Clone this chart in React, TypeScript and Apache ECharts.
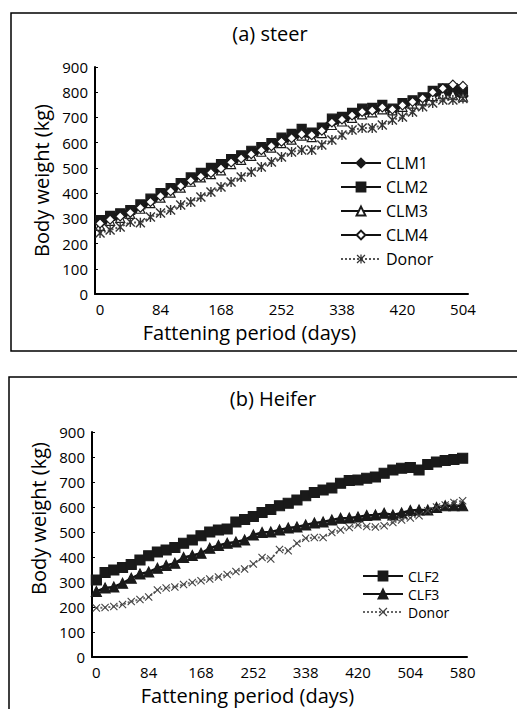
import React, { useEffect, useRef } from "react";
import * as echarts from "echarts";

// ---- data ----
const steerDays = [0,14,28,42,56,70,84,98,112,126,140,154,168,182,196,210,224,238,252,266,280,294,308,322,338,350,364,378,392,406,420,434,448,462,476,490,504];
const heiferDays = [0,14,28,42,56,70,84,98,112,126,140,154,168,182,196,210,224,238,252,266,280,294,308,322,338,350,364,378,392,406,420,434,448,462,476,490,504,518,532,546,560,570,580];

const CLM1 = [285,300,312,325,345,370,392,412,432,455,472,492,508,528,544,560,575,590,610,625,640,630,648,680,690,705,720,725,738,730,745,758,770,790,795,792,785];
const CLM2 = [293,310,320,333,355,378,400,420,440,462,480,500,515,535,550,568,582,598,620,635,655,640,660,695,702,718,735,738,750,735,757,768,780,805,815,815,800];
const CLM3 = [270,290,302,318,338,360,382,402,422,445,462,475,490,515,532,548,564,580,598,612,628,622,638,670,684,698,712,720,732,728,742,755,768,785,792,790,782];
const CLM4 = [280,295,308,322,342,365,388,408,428,450,466,480,498,522,538,554,570,586,604,618,634,630,648,680,692,708,722,728,740,732,748,762,776,800,815,830,825];
const steerDonor = [242,254,266,285,282,305,321,333,353,365,385,404,424,444,464,484,504,523,543,563,571,571,591,611,630,650,658,658,670,690,702,722,742,757,769,769,775];

const CLF2 = [308,338,348,358,370,388,405,420,428,438,455,468,485,500,508,512,540,550,562,578,590,605,615,628,645,658,668,676,695,706,708,715,720,735,748,755,758,748,770,780,786,790,795];
const CLF3 = [262,276,280,295,315,332,340,355,366,375,398,406,415,435,446,455,460,468,488,498,500,508,516,520,528,536,540,548,555,556,560,566,568,575,568,576,586,588,588,598,605,605,605];
const heiferDonor = [196,198,202,210,222,230,240,268,276,280,290,298,305,312,320,330,342,352,372,398,392,430,425,455,475,478,478,498,508,518,528,522,520,525,538,548,556,565,585,600,608,618,625];

const yTicks = { min: 0, max: 900, interval: 100 };

const FONT = "Open Sans";
const STAR = "path://M1,0L5,4L9,0L10,1L6,5L10,9L9,10L5,6L1,10L0,9L4,5L0,1ZM4.3,0L5.7,0L5.7,10L4.3,10Z";
const XMARK = "path://M1,0L5,4L9,0L10,1L6,5L10,9L9,10L5,6L1,10L0,9L4,5L0,1Z";

export default function App() {
  const ref = useRef<HTMLDivElement>(null);
  useEffect(() => {
    document.body.style.margin = "0";
    if (!ref.current) return;
    const chart = echarts.init(ref.current, undefined, { renderer: "svg" });

    const solid = (name: string, data: number[], symbol: string, size: number, xi: number, color = "#1a1a1a") => ({
      name, type: "line", data, xAxisIndex: xi, yAxisIndex: xi,
      symbol, symbolSize: size, showAllSymbol: true,
      lineStyle: { color: "#111", width: 2.5 },
      itemStyle: { color, borderColor: "#1a1a1a", borderWidth: 1.2 },
    });

    const axisX = (gridIndex: number, data: number[]) => ({
      type: "category", gridIndex, data: data.map(String), boundaryGap: true,
      name: "Fattening period (days)", nameLocation: "middle", nameGap: 28,
      nameTextStyle: { fontFamily: FONT, fontSize: 20, lineHeight: 20, color: "#000", padding: [0, 64, 0, 0] },
      axisLine: { lineStyle: { color: "#000", width: 2 } },
      axisTick: { inside: true, length: 4, interval: 5, lineStyle: { color: "#000" } },
      axisLabel: { interval: 5, fontFamily: FONT, fontSize: 15, lineHeight: 15, color: "#000", margin: 7 },
      splitLine: { show: false },
    });
    const axisY = (gridIndex: number, shift: number) => ({
      type: "value", gridIndex, ...yTicks,
      name: "Body weight (kg)", nameLocation: "middle", nameGap: 43,
      nameTextStyle: { fontFamily: FONT, fontSize: 20, color: "#000", padding: shift > 0 ? [0, 0, 0, shift] : [0, -shift, 0, 0] },
      axisLine: { show: true, lineStyle: { color: "#000", width: 2 } },
      axisTick: { show: true, inside: true, length: 3, lineStyle: { color: "#000" } },
      axisLabel: { fontFamily: FONT, fontSize: 15, color: "#000", margin: 7 },
      splitLine: { show: false },
    });

    chart.setOption({
      animation: false,
      backgroundColor: "#fff",
      graphic: [
        { type: "rect", shape: { x: 11, y: 13, width: 520, height: 338 }, style: { fill: "none", stroke: "#000", lineWidth: 1.5 } },
        { type: "rect", shape: { x: 9, y: 377, width: 520, height: 345 }, style: { fill: "none", stroke: "#000", lineWidth: 1.5 } },
        { type: "text", x: 270, y: 33, style: { text: "(a) steer", fontFamily: FONT, fontSize: 20, fill: "#000", textAlign: "center", textVerticalAlign: "middle" } },
        { type: "text", x: 273, y: 398, style: { text: "(b) Heifer", fontFamily: FONT, fontSize: 20, fill: "#000", textAlign: "center", textVerticalAlign: "middle" } },
      ],
      grid: [
        { left: 95, top: 67, width: 373, height: 227 },
        { left: 92, top: 432, width: 375, height: 225 },
      ],
      xAxis: [axisX(0, steerDays), axisX(1, heiferDays)],
      yAxis: [axisY(0, 0), axisY(1, 52)],
      legend: [
        {
          data: ["CLM1", "CLM2", "CLM3", "CLM4", "Donor"],
          orient: "vertical", left: 340, top: 155, padding: 0, itemWidth: 40, itemHeight: 11, itemGap: 8,
          textStyle: { fontFamily: FONT, fontSize: 16, color: "#000", lineHeight: 16 },
          selectedMode: false,
        },
        {
          data: ["CLF2", "CLF3", "Donor (b)"],
          formatter: (n: string) => n.replace(" (b)", ""),
          orient: "vertical", left: 362, top: 569, padding: 0, itemWidth: 40, itemHeight: 11, itemGap: 4,
          textStyle: { fontFamily: FONT, fontSize: 14, color: "#000", lineHeight: 14 },
          selectedMode: false,
        },
      ],
      series: [
        solid("CLM1", CLM1, "diamond", 10, 0),
        solid("CLM2", CLM2, "rect", 9, 0),
        solid("CLM3", CLM3, "triangle", 9, 0, "#fff"),
        solid("CLM4", CLM4, "diamond", 9, 0, "#fff"),
        {
          name: "Donor", type: "line", data: steerDonor, xAxisIndex: 0, yAxisIndex: 0,
          symbol: STAR, symbolSize: 10, showAllSymbol: true,
          lineStyle: { color: "#555", width: 2, type: "dotted" },
          itemStyle: { color: "#333" },
        },
        solid("CLF2", CLF2, "rect", 10, 1),
        solid("CLF3", CLF3, "triangle", 10, 1),
        {
          name: "Donor (b)", type: "line", data: heiferDonor, xAxisIndex: 1, yAxisIndex: 1,
          symbol: XMARK, symbolSize: 8, showAllSymbol: true,
          lineStyle: { color: "#666", width: 2, type: "dotted" },
          itemStyle: { color: "#444" },
        },
      ],
    });
    return () => chart.dispose();
  }, []);
  return <div ref={ref} style={{ position: "absolute", left: 0, top: 0, width: 517, height: 709 }} />;
}
